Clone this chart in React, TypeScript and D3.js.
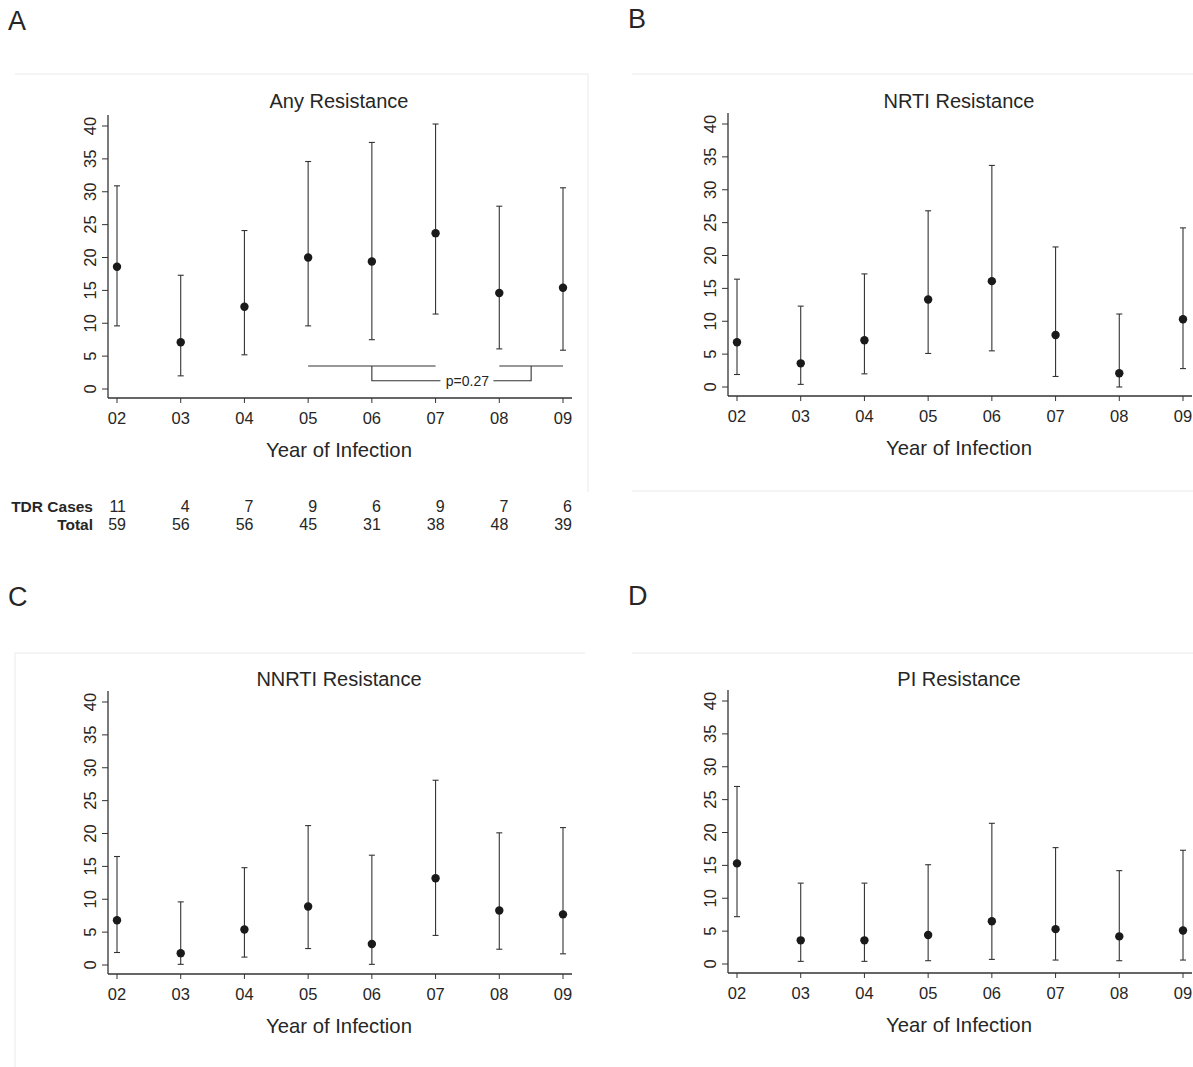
import { useEffect, useRef } from 'react';
import * as d3 from 'd3';

const YEARS = [2, 3, 4, 5, 6, 7, 8, 9];
const Y_TICKS = [0, 5, 10, 15, 20, 25, 30, 35, 40];

// prevalence (%) with 95% CI, by year of infection
const ANY_PCT = [18.6, 7.1, 12.5, 20.0, 19.4, 23.7, 14.6, 15.4];
const ANY_LO = [9.6, 2.0, 5.2, 9.6, 7.5, 11.4, 6.1, 5.9];
const ANY_HI = [30.9, 17.3, 24.1, 34.6, 37.5, 40.3, 27.8, 30.6];

const NRTI_PCT = [6.8, 3.6, 7.1, 13.3, 16.1, 7.9, 2.1, 10.3];
const NRTI_LO = [1.9, 0.4, 2.0, 5.1, 5.5, 1.6, 0.0, 2.8];
const NRTI_HI = [16.4, 12.3, 17.2, 26.8, 33.7, 21.3, 11.1, 24.2];

const NNRTI_PCT = [6.8, 1.8, 5.4, 8.9, 3.2, 13.2, 8.3, 7.7];
const NNRTI_LO = [1.9, 0.1, 1.2, 2.5, 0.1, 4.5, 2.4, 1.7];
const NNRTI_HI = [16.5, 9.6, 14.8, 21.2, 16.7, 28.1, 20.1, 20.9];

const PI_PCT = [15.3, 3.6, 3.6, 4.4, 6.5, 5.3, 4.2, 5.1];
const PI_LO = [7.2, 0.4, 0.4, 0.5, 0.7, 0.6, 0.5, 0.6];
const PI_HI = [27.0, 12.3, 12.3, 15.1, 21.4, 17.7, 14.2, 17.3];

// counts table under panel A
const TDR_CASES = [11, 4, 7, 9, 6, 9, 7, 6];
const TOTALS = [59, 56, 56, 45, 31, 38, 48, 39];

// comparison bracket on panel A: 2005-07 vs 2008-09
const GROUP_1 = [5, 7];
const GROUP_2 = [8, 9];
const BRACKET_TOP = 3.5;
const BRACKET_LOW = 1.25;
const P_LABEL = 'p=0.27';

const FONT = '"Liberation Sans", Arial, Helvetica, sans-serif';
const INK = '#262626';
const LINE = '#333';
const FAINT = '#e8ecec';

export default function App() {
  const svgRef = useRef<SVGSVGElement | null>(null);

  useEffect(() => {
    document.body.style.margin = '0';
    if (!svgRef.current) return;

    const svg = d3.select(svgRef.current);
    svg.selectAll('*').remove();

    const panels = [
      { letter: 'A', title: 'Any Resistance', pct: ANY_PCT, lo: ANY_LO, hi: ANY_HI, dx: 0, dy: 0, titleY: 108,
        frame: { x0: 15, x1: 588, y0: 74, y1: 492, sides: ['top', 'right'] } },
      { letter: 'B', title: 'NRTI Resistance', pct: NRTI_PCT, lo: NRTI_LO, hi: NRTI_HI, dx: 620, dy: -2, titleY: 110,
        frame: { x0: 12, x1: 573, y0: 76, y1: 493, sides: ['top', 'bottom'] } },
      { letter: 'C', title: 'NNRTI Resistance', pct: NNRTI_PCT, lo: NNRTI_LO, hi: NNRTI_HI, dx: 0, dy: 576, titleY: 110,
        frame: { x0: 15, x1: 585, y0: 77, y1: 491, sides: ['top', 'left'] } },
      { letter: 'D', title: 'PI Resistance', pct: PI_PCT, lo: PI_LO, hi: PI_HI, dx: 620, dy: 575, titleY: 111,
        frame: { x0: 12, x1: 573, y0: 78, y1: 492, sides: ['top'] } },
    ];

    const x = d3.scaleLinear().domain([2, 9]).range([117, 563]);
    const y = d3.scaleLinear().domain([0, 40]).range([389, 126]);
    const axisX = 108;
    const axisY = 398;

    panels.forEach(p => {
      const g = svg.append('g')
        .attr('transform', `translate(${p.dx},${p.dy})`)
        .attr('font-family', FONT)
        .attr('fill', INK);

      // faint plot-region border
      const f = p.frame;
      const segs: number[][] = [];
      if (f.sides.includes('top')) segs.push([f.x0, f.y0, f.x1, f.y0]);
      if (f.sides.includes('bottom')) segs.push([f.x0, f.y1, f.x1, f.y1]);
      if (f.sides.includes('left')) segs.push([f.x0, f.y0, f.x0, f.y1]);
      if (f.sides.includes('right')) segs.push([f.x1, f.y0, f.x1, f.y1]);
      g.selectAll('.frame')
        .data(segs)
        .join('line')
        .attr('x1', d => d[0]).attr('y1', d => d[1])
        .attr('x2', d => d[2]).attr('y2', d => d[3])
        .attr('stroke', FAINT)
        .attr('stroke-width', 1);

      g.append('text')
        .attr('x', 8).attr('y', 30)
        .attr('font-size', 27)
        .text(p.letter);

      g.append('text')
        .attr('x', 339).attr('y', p.titleY)
        .attr('text-anchor', 'middle')
        .attr('font-size', 20)
        .text(p.title);

      // axes lines
      g.append('line')
        .attr('x1', axisX).attr('x2', axisX)
        .attr('y1', axisY).attr('y2', y(40) - 11)
        .attr('stroke', LINE).attr('stroke-width', 1.3);
      g.append('line')
        .attr('x1', axisX).attr('x2', x(9) + 9)
        .attr('y1', axisY).attr('y2', axisY)
        .attr('stroke', LINE).attr('stroke-width', 1.3);

      // y ticks
      g.selectAll('.ytick')
        .data(Y_TICKS)
        .join('line')
        .attr('x1', axisX - 6).attr('x2', axisX)
        .attr('y1', d => y(d)).attr('y2', d => y(d))
        .attr('stroke', LINE);
      g.selectAll('.ylabel')
        .data(Y_TICKS)
        .join('text')
        .attr('transform', d => `translate(${axisX - 12},${y(d)}) rotate(-90)`)
        .attr('text-anchor', 'middle')
        .attr('font-size', 16.5)
        .text(d => d);

      // x ticks
      g.selectAll('.xtick')
        .data(YEARS)
        .join('line')
        .attr('x1', d => x(d)).attr('x2', d => x(d))
        .attr('y1', axisY).attr('y2', axisY + 5)
        .attr('stroke', LINE);
      g.selectAll('.xlabel')
        .data(YEARS)
        .join('text')
        .attr('x', d => x(d)).attr('y', 423.5)
        .attr('text-anchor', 'middle')
        .attr('font-size', 16.5)
        .text(d => d3.format('02d')(d));

      g.append('text')
        .attr('x', 339).attr('y', 457)
        .attr('text-anchor', 'middle')
        .attr('font-size', 20.3)
        .text('Year of Infection');

      // error bars
      const rows = YEARS.map((yr, i) => ({ yr, pct: p.pct[i], lo: p.lo[i], hi: p.hi[i] }));
      const bars = g.selectAll('.bar').data(rows).join('g');
      bars.append('line')
        .attr('x1', d => x(d.yr)).attr('x2', d => x(d.yr))
        .attr('y1', d => y(d.lo)).attr('y2', d => y(d.hi))
        .attr('stroke', LINE).attr('stroke-width', 1.1);
      bars.append('line')
        .attr('x1', d => x(d.yr) - 3).attr('x2', d => x(d.yr) + 3)
        .attr('y1', d => y(d.hi)).attr('y2', d => y(d.hi))
        .attr('stroke', LINE).attr('stroke-width', 1.1);
      bars.append('line')
        .attr('x1', d => x(d.yr) - 3).attr('x2', d => x(d.yr) + 3)
        .attr('y1', d => y(d.lo)).attr('y2', d => y(d.lo))
        .attr('stroke', LINE).attr('stroke-width', 1.1);
      bars.append('circle')
        .attr('cx', d => x(d.yr)).attr('cy', d => y(d.pct))
        .attr('r', 4.2)
        .attr('fill', '#1a1a1a');

      if (p.letter !== 'A') return;

      // bracket comparing the two periods
      const m1 = (GROUP_1[0] + GROUP_1[1]) / 2;
      const m2 = (GROUP_2[0] + GROUP_2[1]) / 2;
      const mid = (GROUP_1[1] + GROUP_2[0]) / 2;
      const path = d3.path();
      path.moveTo(x(GROUP_1[0]), y(BRACKET_TOP));
      path.lineTo(x(GROUP_1[1]), y(BRACKET_TOP));
      path.moveTo(x(m1), y(BRACKET_TOP));
      path.lineTo(x(m1), y(BRACKET_LOW));
      path.lineTo(x(mid) - 27, y(BRACKET_LOW));
      path.moveTo(x(mid) + 26, y(BRACKET_LOW));
      path.lineTo(x(m2), y(BRACKET_LOW));
      path.lineTo(x(m2), y(BRACKET_TOP));
      path.moveTo(x(GROUP_2[0]), y(BRACKET_TOP));
      path.lineTo(x(GROUP_2[1]), y(BRACKET_TOP));
      g.append('path')
        .attr('d', path.toString())
        .attr('fill', 'none')
        .attr('stroke', LINE)
        .attr('stroke-width', 1.1);
      g.append('text')
        .attr('x', x(mid)).attr('y', y(BRACKET_LOW) + 5)
        .attr('text-anchor', 'middle')
        .attr('font-size', 14)
        .text(P_LABEL);

      // counts table
      const tbl = [
        { label: 'TDR Cases', vals: TDR_CASES, yPos: 512 },
        { label: 'Total', vals: TOTALS, yPos: 530 },
      ];
      tbl.forEach(row => {
        g.append('text')
          .attr('x', 93).attr('y', row.yPos)
          .attr('text-anchor', 'end')
          .attr('font-size', 15.5)
          .attr('font-weight', 'bold')
          .text(row.label);
        g.selectAll(`.cell-${row.label.length}`)
          .data(row.vals)
          .join('text')
          .attr('x', (d, i) => x(YEARS[i]) + 9)
          .attr('y', row.yPos)
          .attr('text-anchor', 'end')
          .attr('font-size', 16)
          .text(d => d);
      });
    });
  }, []);

  return (
    <svg
      ref={svgRef}
      width={1193}
      height={1067}
      style={{ display: 'block', background: '#fff' }}
    />
  );
}
